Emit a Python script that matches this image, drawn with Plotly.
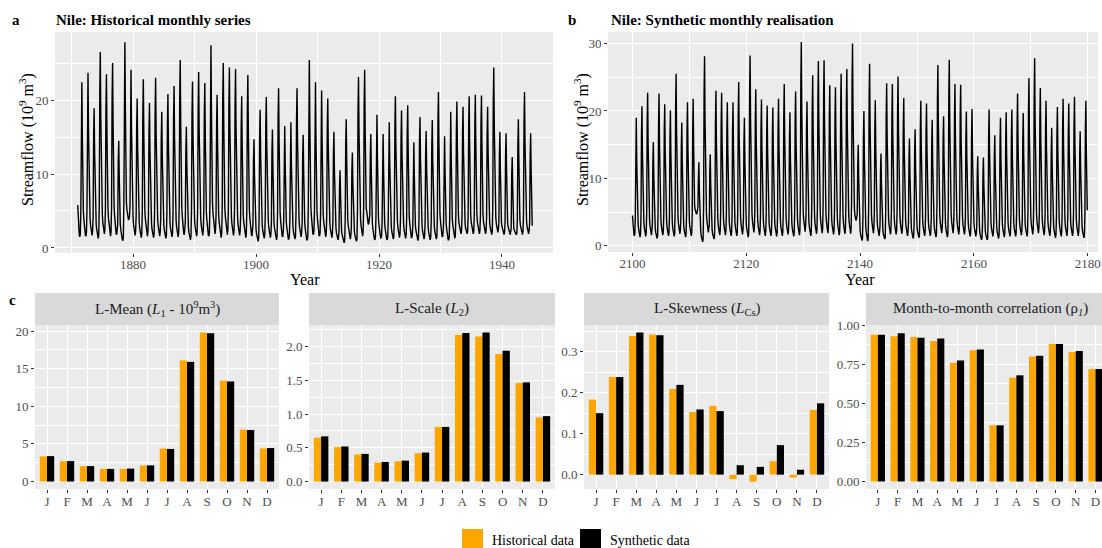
import plotly.graph_objects as go

W, H = 1102, 548
FONT = "Liberation Serif"

# ---------------- data ----------------
months = ["J", "F", "M", "A", "M", "J", "J", "A", "S", "O", "N", "D"]

hist_years = list(range(1871, 1945))
hist_monthly = [
    [5.8, 3.6, 2.4, 1.7, 1.5, 1.9, 4.9, 17.9, 22.4, 15.0, 7.7, 4.9],
    [3.8, 2.9, 2.2, 1.7, 1.6, 2.1, 5.2, 19.0, 23.7, 15.9, 8.2, 5.2],
    [4.0, 3.1, 2.4, 1.8, 1.7, 2.3, 4.2, 15.1, 18.9, 12.7, 6.5, 4.2],
    [3.2, 2.5, 1.9, 1.4, 1.3, 1.8, 5.8, 21.2, 26.5, 17.8, 9.1, 5.8],
    [4.5, 3.4, 2.7, 2.0, 1.9, 2.5, 5.2, 18.8, 23.5, 15.7, 8.1, 5.2],
    [4.0, 3.1, 2.4, 1.8, 1.6, 2.2, 5.5, 20.0, 25.0, 16.8, 8.6, 5.5],
    [4.3, 3.3, 2.5, 1.9, 1.8, 2.4, 3.2, 11.6, 14.5, 9.7, 5.0, 3.2],
    [2.5, 1.9, 1.5, 1.1, 1.0, 1.4, 6.1, 22.2, 27.8, 18.6, 9.6, 6.1],
    [5.2, 4.4, 4.0, 3.8, 3.9, 4.3, 5.8, 19.3, 24.1, 16.1, 8.3, 5.3],
    [4.1, 3.1, 2.4, 1.8, 1.7, 2.3, 4.4, 16.2, 20.2, 13.5, 7.0, 4.4],
    [3.4, 2.6, 2.0, 1.5, 1.4, 1.9, 5.0, 18.2, 22.8, 15.3, 7.9, 5.0],
    [3.9, 3.0, 2.3, 1.7, 1.6, 2.2, 4.3, 15.7, 19.6, 13.1, 6.8, 4.3],
    [3.3, 2.5, 2.0, 1.5, 1.4, 1.9, 5.1, 18.4, 23.0, 15.4, 7.9, 5.1],
    [3.9, 3.0, 2.3, 1.7, 1.6, 2.2, 4.0, 14.7, 18.4, 12.3, 6.3, 4.0],
    [3.1, 2.4, 1.8, 1.4, 1.3, 1.7, 4.6, 16.6, 20.8, 13.9, 7.2, 4.6],
    [3.5, 2.7, 2.1, 1.6, 1.5, 2.0, 4.8, 17.5, 21.9, 14.7, 7.6, 4.8],
    [3.7, 2.8, 2.2, 1.6, 1.5, 2.1, 5.6, 20.3, 25.4, 17.0, 8.8, 5.6],
    [4.3, 3.3, 2.5, 1.9, 1.8, 2.4, 3.6, 13.1, 16.4, 11.0, 5.7, 3.6],
    [2.8, 2.1, 1.6, 1.2, 1.1, 1.6, 5.0, 18.0, 22.5, 15.1, 7.8, 5.0],
    [3.8, 2.9, 2.3, 1.7, 1.6, 2.1, 5.2, 19.0, 23.8, 15.9, 8.2, 5.2],
    [4.0, 3.1, 2.4, 1.8, 1.7, 2.3, 4.9, 17.8, 22.3, 14.9, 7.7, 4.9],
    [3.8, 2.9, 2.2, 1.7, 1.6, 2.1, 6.0, 21.9, 27.4, 18.4, 9.5, 6.0],
    [4.7, 3.6, 2.7, 2.1, 1.9, 2.6, 4.6, 16.6, 20.7, 13.9, 7.1, 4.6],
    [3.5, 2.7, 2.1, 1.6, 1.4, 2.0, 5.5, 20.0, 25.0, 16.8, 8.6, 5.5],
    [4.3, 3.3, 2.5, 1.9, 1.8, 2.4, 5.4, 19.5, 24.4, 16.3, 8.4, 5.4],
    [4.1, 3.2, 2.4, 1.8, 1.7, 2.3, 5.3, 19.4, 24.2, 16.2, 8.3, 5.3],
    [4.1, 3.1, 2.4, 1.8, 1.7, 2.3, 4.5, 16.4, 20.5, 13.7, 7.1, 4.5],
    [3.5, 2.7, 2.1, 1.5, 1.4, 1.9, 5.1, 18.7, 23.4, 15.7, 8.1, 5.1],
    [4.0, 3.0, 2.3, 1.8, 1.6, 2.2, 3.2, 11.8, 14.7, 9.8, 5.1, 3.2],
    [2.5, 1.9, 1.5, 1.1, 0.9, 1.3, 4.1, 15.0, 18.7, 12.5, 6.5, 4.1],
    [3.2, 2.4, 1.9, 1.4, 1.3, 1.8, 4.5, 16.3, 20.4, 13.7, 7.0, 4.5],
    [3.5, 2.7, 2.0, 1.5, 1.4, 1.9, 3.5, 12.8, 16.0, 10.7, 5.5, 3.5],
    [2.7, 2.1, 1.6, 1.2, 1.1, 1.5, 4.8, 17.3, 21.6, 14.5, 7.5, 4.8],
    [3.7, 2.8, 2.2, 1.6, 1.5, 2.1, 3.6, 13.2, 16.5, 11.1, 5.7, 3.6],
    [2.8, 2.1, 1.7, 1.2, 1.2, 1.6, 3.7, 13.6, 17.0, 11.4, 5.9, 3.7],
    [2.9, 2.2, 1.7, 1.3, 1.2, 1.6, 4.8, 17.3, 21.6, 14.5, 7.5, 4.8],
    [3.7, 2.8, 2.2, 1.6, 1.5, 2.1, 3.4, 12.2, 15.3, 10.3, 5.3, 3.4],
    [2.6, 2.0, 1.5, 1.1, 1.1, 1.5, 5.6, 20.3, 25.4, 17.0, 8.8, 5.6],
    [4.3, 3.3, 2.5, 1.9, 1.8, 2.4, 4.9, 17.9, 22.4, 15.0, 7.7, 4.9],
    [3.8, 2.9, 2.2, 1.7, 1.6, 2.1, 4.7, 17.0, 21.3, 14.3, 7.3, 4.7],
    [3.6, 2.8, 2.1, 1.6, 1.5, 2.0, 4.4, 16.2, 20.2, 13.5, 7.0, 4.4],
    [3.4, 2.6, 2.0, 1.5, 1.4, 1.9, 3.5, 12.6, 15.7, 10.5, 5.4, 3.5],
    [2.7, 2.0, 1.6, 1.2, 1.1, 1.5, 2.3, 8.4, 10.5, 7.0, 3.6, 2.3],
    [1.8, 1.4, 1.1, 0.8, 0.7, 1.0, 3.8, 13.9, 17.4, 11.7, 6.0, 3.8],
    [3.0, 2.3, 1.7, 1.3, 1.2, 1.7, 2.8, 10.3, 12.9, 8.6, 4.5, 2.8],
    [2.2, 1.7, 1.3, 1.0, 0.9, 1.2, 5.1, 18.5, 23.1, 15.5, 8.0, 5.1],
    [3.9, 3.0, 2.3, 1.7, 1.6, 2.2, 5.3, 19.3, 24.1, 16.1, 8.3, 5.3],
    [5.0, 4.2, 3.6, 3.2, 3.3, 3.8, 4.5, 12.3, 15.4, 10.3, 5.3, 3.4],
    [2.6, 2.0, 1.5, 1.2, 1.1, 1.5, 4.0, 14.4, 18.0, 12.1, 6.2, 4.0],
    [3.1, 2.3, 1.8, 1.4, 1.3, 1.7, 3.4, 12.3, 15.4, 10.3, 5.3, 3.4],
    [2.6, 2.0, 1.5, 1.2, 1.1, 1.5, 3.7, 13.6, 17.0, 11.4, 5.9, 3.7],
    [2.9, 2.2, 1.7, 1.3, 1.2, 1.6, 4.5, 16.4, 20.5, 13.7, 7.1, 4.5],
    [3.5, 2.7, 2.1, 1.5, 1.4, 1.9, 4.1, 14.9, 18.6, 12.5, 6.4, 4.1],
    [3.2, 2.4, 1.9, 1.4, 1.3, 1.8, 4.2, 15.4, 19.3, 12.9, 6.7, 4.2],
    [3.3, 2.5, 1.9, 1.4, 1.4, 1.8, 3.1, 11.4, 14.3, 9.6, 4.9, 3.1],
    [2.4, 1.9, 1.4, 1.1, 1.0, 1.4, 3.9, 14.2, 17.7, 11.9, 6.1, 3.9],
    [3.0, 2.3, 1.8, 1.3, 1.2, 1.7, 3.5, 12.6, 15.8, 10.6, 5.5, 3.5],
    [2.7, 2.1, 1.6, 1.2, 1.1, 1.5, 3.8, 13.8, 17.3, 11.6, 6.0, 3.8],
    [2.9, 2.2, 1.7, 1.3, 1.2, 1.6, 4.6, 16.9, 21.1, 14.1, 7.3, 4.6],
    [3.6, 2.7, 2.1, 1.6, 1.5, 2.0, 3.3, 12.1, 15.1, 10.1, 5.2, 3.3],
    [2.6, 2.0, 1.5, 1.1, 1.1, 1.4, 4.0, 14.7, 18.4, 12.3, 6.3, 4.0],
    [3.1, 2.4, 1.8, 1.4, 1.3, 1.7, 4.4, 15.8, 19.8, 13.3, 6.8, 4.4],
    [3.4, 2.8, 2.3, 2.0, 1.9, 2.3, 4.2, 15.3, 19.1, 12.8, 6.6, 4.2],
    [3.3, 2.7, 2.3, 1.9, 1.9, 2.2, 4.5, 16.4, 20.5, 13.7, 7.1, 4.5],
    [3.5, 2.9, 2.4, 2.0, 1.9, 2.3, 4.6, 16.6, 20.7, 13.9, 7.1, 4.6],
    [3.5, 2.9, 2.4, 2.0, 1.9, 2.4, 4.5, 16.5, 20.6, 13.8, 7.1, 4.5],
    [3.5, 2.9, 2.4, 2.0, 1.9, 2.4, 4.2, 15.3, 19.1, 12.8, 6.6, 4.2],
    [3.3, 2.8, 2.3, 1.9, 1.8, 2.2, 5.4, 19.5, 24.4, 16.3, 8.4, 5.4],
    [4.1, 3.3, 2.7, 2.2, 2.1, 2.5, 3.5, 12.6, 15.7, 10.5, 5.4, 3.5],
    [2.9, 2.5, 2.2, 1.9, 1.8, 2.1, 3.4, 12.4, 15.5, 10.4, 5.3, 3.4],
    [2.9, 2.5, 2.2, 1.9, 1.8, 2.1, 2.7, 9.8, 12.3, 8.2, 4.2, 2.7],
    [2.4, 2.2, 2.0, 1.8, 1.8, 2.0, 3.8, 13.9, 17.4, 11.7, 6.0, 3.8],
    [3.1, 2.6, 2.2, 1.9, 1.8, 2.1, 4.6, 16.9, 21.1, 14.1, 7.3, 4.6],
    [3.6, 2.9, 2.4, 2.0, 1.9, 2.3, 3.4, 12.4, 15.5, 10.4, 5.3, 3.0],
]

synth_years = list(range(2100, 2180))
synth_monthly = [
    [4.5, 3.0, 2.2, 1.7, 1.5, 1.9, 4.2, 15.2, 19.0, 12.7, 6.6, 4.2],
    [3.2, 2.5, 1.9, 1.4, 1.3, 1.8, 4.6, 16.6, 20.7, 13.9, 7.1, 4.6],
    [3.5, 2.7, 2.1, 1.6, 1.4, 2.0, 5.0, 18.2, 22.7, 15.2, 7.8, 5.0],
    [3.9, 3.0, 2.3, 1.7, 1.6, 2.2, 3.4, 12.3, 15.4, 10.3, 5.3, 3.4],
    [2.6, 2.0, 1.5, 1.2, 1.1, 1.5, 5.0, 18.1, 22.6, 15.1, 7.8, 5.0],
    [3.8, 2.9, 2.3, 1.7, 1.6, 2.1, 4.6, 16.8, 21.0, 14.1, 7.2, 4.6],
    [3.6, 2.7, 2.1, 1.6, 1.5, 2.0, 4.4, 16.1, 20.1, 13.5, 6.9, 4.4],
    [3.4, 2.6, 2.0, 1.5, 1.4, 1.9, 5.6, 20.4, 25.5, 17.1, 8.8, 5.6],
    [4.3, 3.3, 2.6, 1.9, 1.8, 2.4, 4.0, 14.6, 18.3, 12.3, 6.3, 4.0],
    [3.1, 2.4, 1.8, 1.4, 1.3, 1.7, 4.7, 17.0, 21.3, 14.3, 7.3, 4.7],
    [3.6, 2.8, 2.1, 1.6, 1.5, 2.0, 4.8, 17.4, 21.8, 14.6, 7.5, 6.0],
    [5.4, 5.0, 4.8, 4.7, 4.8, 5.2, 5.8, 9.9, 12.4, 8.3, 4.3, 2.7],
    [2.1, 1.5, 1.0, 0.7, 0.6, 1.0, 6.2, 22.5, 28.1, 18.8, 9.7, 6.2],
    [4.8, 3.7, 2.9, 2.2, 2.0, 2.7, 3.0, 10.9, 13.6, 9.1, 4.7, 3.0],
    [2.3, 1.8, 1.4, 1.0, 1.0, 1.3, 5.1, 18.4, 23.0, 15.4, 7.9, 5.1],
    [3.9, 3.0, 2.3, 1.7, 1.6, 2.2, 5.0, 18.2, 22.7, 15.2, 7.8, 5.0],
    [3.9, 3.0, 2.3, 1.7, 1.6, 2.2, 4.7, 17.0, 21.3, 14.3, 7.3, 4.7],
    [3.6, 2.8, 2.1, 1.6, 1.5, 2.0, 4.7, 17.0, 21.3, 14.3, 7.3, 4.7],
    [3.6, 2.8, 2.1, 1.6, 1.5, 2.0, 5.3, 19.4, 24.3, 16.3, 8.4, 5.3],
    [4.1, 3.2, 2.4, 1.8, 1.7, 2.3, 4.2, 15.2, 19.0, 12.7, 6.6, 4.2],
    [3.2, 2.5, 1.9, 1.4, 1.3, 1.8, 6.2, 22.6, 28.2, 18.9, 9.7, 6.2],
    [4.8, 3.7, 2.8, 2.1, 2.0, 2.7, 5.1, 18.6, 23.2, 15.5, 8.0, 5.1],
    [3.9, 3.0, 2.3, 1.7, 1.6, 2.2, 4.8, 17.4, 21.7, 14.5, 7.5, 4.8],
    [3.7, 2.8, 2.2, 1.6, 1.5, 2.1, 4.6, 16.6, 20.8, 13.9, 7.2, 4.6],
    [3.5, 2.7, 2.1, 1.6, 1.5, 2.0, 4.5, 16.4, 20.5, 13.7, 7.1, 4.5],
    [3.5, 2.7, 2.1, 1.5, 1.4, 1.9, 4.8, 17.4, 21.8, 14.6, 7.5, 4.8],
    [3.7, 2.8, 2.2, 1.6, 1.5, 2.1, 5.3, 19.2, 24.0, 16.1, 8.3, 5.3],
    [4.1, 3.1, 2.4, 1.8, 1.7, 2.3, 4.4, 15.8, 19.8, 13.3, 6.8, 4.4],
    [3.4, 2.6, 2.0, 1.5, 1.4, 1.9, 5.0, 18.3, 22.9, 15.3, 7.9, 5.0],
    [3.9, 3.0, 2.3, 1.7, 1.6, 2.2, 6.6, 24.2, 30.2, 20.2, 10.4, 6.6],
    [5.1, 3.9, 3.0, 2.3, 2.1, 2.9, 4.7, 17.1, 21.4, 14.3, 7.4, 4.7],
    [3.6, 2.8, 2.1, 1.6, 1.5, 2.0, 5.6, 20.2, 25.3, 17.0, 8.7, 5.6],
    [4.3, 3.3, 2.5, 1.9, 1.8, 2.4, 6.0, 21.9, 27.4, 18.4, 9.5, 6.0],
    [4.7, 3.6, 2.7, 2.1, 1.9, 2.6, 6.1, 22.0, 27.5, 18.4, 9.5, 6.1],
    [4.7, 3.6, 2.8, 2.1, 1.9, 2.6, 5.2, 19.0, 23.8, 15.9, 8.2, 5.2],
    [4.0, 3.1, 2.4, 1.8, 1.7, 2.3, 5.2, 18.8, 23.5, 15.7, 8.1, 5.2],
    [4.0, 3.1, 2.4, 1.8, 1.6, 2.2, 5.6, 20.4, 25.5, 17.1, 8.8, 5.6],
    [4.3, 3.3, 2.6, 1.9, 1.8, 2.4, 5.8, 21.0, 26.2, 17.6, 9.0, 5.8],
    [4.5, 3.4, 2.6, 2.0, 1.8, 2.5, 6.6, 24.0, 30.0, 20.1, 10.4, 6.6],
    [5.5, 4.6, 4.0, 3.8, 3.9, 4.3, 4.8, 12.0, 15.0, 10.1, 5.2, 3.3],
    [2.4, 1.7, 1.2, 0.9, 0.8, 1.2, 4.4, 16.0, 20.0, 13.4, 6.9, 4.4],
    [2.8, 2.0, 1.3, 0.8, 0.7, 1.2, 5.9, 21.6, 27.0, 18.1, 9.3, 5.9],
    [4.6, 3.5, 2.7, 2.0, 1.9, 2.6, 4.8, 17.3, 21.6, 14.5, 7.5, 4.8],
    [3.7, 2.8, 2.2, 1.6, 1.5, 2.1, 3.0, 11.0, 13.7, 9.2, 4.7, 3.0],
    [2.3, 1.8, 1.4, 1.0, 1.0, 1.3, 5.3, 19.3, 24.1, 16.1, 8.3, 5.3],
    [4.1, 3.1, 2.4, 1.8, 1.7, 2.3, 5.3, 19.2, 24.0, 16.1, 8.3, 5.3],
    [4.1, 3.1, 2.4, 1.8, 1.7, 2.3, 5.5, 20.1, 25.1, 16.8, 8.7, 5.5],
    [4.3, 3.3, 2.5, 1.9, 1.8, 2.4, 4.8, 17.5, 21.9, 14.7, 7.6, 4.8],
    [3.7, 2.8, 2.2, 1.6, 1.5, 2.1, 3.5, 12.7, 15.9, 10.7, 5.5, 3.5],
    [2.7, 2.1, 1.6, 1.2, 1.1, 1.5, 3.8, 13.8, 17.3, 11.6, 6.0, 3.8],
    [2.9, 2.2, 1.7, 1.3, 1.2, 1.6, 4.7, 17.2, 21.5, 14.4, 7.4, 4.7],
    [3.7, 2.8, 2.2, 1.6, 1.5, 2.0, 4.6, 16.9, 21.1, 14.1, 7.3, 4.6],
    [3.6, 2.7, 2.1, 1.6, 1.5, 2.0, 4.1, 15.0, 18.7, 12.5, 6.5, 4.1],
    [3.2, 2.4, 1.9, 1.4, 1.3, 1.8, 5.9, 21.4, 26.8, 18.0, 9.2, 5.9],
    [4.6, 3.5, 2.7, 2.0, 1.9, 2.5, 4.2, 15.4, 19.2, 12.9, 6.6, 4.2],
    [3.3, 2.5, 1.9, 1.4, 1.3, 1.8, 6.1, 22.1, 27.6, 18.5, 9.5, 6.1],
    [4.7, 3.6, 2.8, 2.1, 1.9, 2.6, 5.3, 19.2, 24.0, 16.1, 8.3, 5.3],
    [4.1, 3.1, 2.4, 1.8, 1.7, 2.3, 5.3, 19.1, 23.9, 16.0, 8.2, 5.3],
    [4.1, 3.1, 2.4, 1.8, 1.7, 2.3, 4.4, 15.9, 19.9, 13.3, 6.9, 4.4],
    [3.4, 2.6, 2.0, 1.5, 1.4, 1.9, 4.5, 16.2, 20.3, 13.6, 7.0, 4.5],
    [3.5, 2.6, 2.0, 1.5, 1.4, 1.9, 2.9, 10.6, 13.3, 8.9, 4.6, 2.9],
    [2.3, 1.7, 1.3, 1.0, 0.9, 1.3, 2.9, 10.5, 13.1, 8.8, 4.5, 2.9],
    [2.2, 1.7, 1.3, 1.0, 0.9, 1.2, 4.4, 16.2, 20.2, 13.5, 7.0, 4.4],
    [3.4, 2.6, 2.0, 1.5, 1.4, 1.9, 3.6, 13.1, 16.4, 11.0, 5.7, 3.6],
    [2.8, 2.1, 1.6, 1.2, 1.1, 1.6, 4.2, 15.2, 19.0, 12.7, 6.6, 4.2],
    [3.2, 2.5, 1.9, 1.4, 1.3, 1.8, 4.4, 15.8, 19.8, 13.3, 6.8, 4.4],
    [3.4, 2.6, 2.0, 1.5, 1.4, 1.9, 4.4, 16.2, 20.2, 13.5, 7.0, 4.4],
    [3.4, 2.6, 2.0, 1.5, 1.4, 1.9, 5.0, 18.1, 22.6, 15.1, 7.8, 5.0],
    [3.8, 2.9, 2.3, 1.7, 1.6, 2.1, 4.3, 15.8, 19.7, 13.2, 6.8, 4.3],
    [3.3, 2.6, 2.0, 1.5, 1.4, 1.9, 5.5, 19.9, 24.9, 16.7, 8.6, 5.5],
    [4.2, 3.2, 2.5, 1.9, 1.7, 2.4, 6.1, 22.2, 27.8, 18.6, 9.6, 6.1],
    [4.7, 3.6, 2.8, 2.1, 1.9, 2.6, 5.1, 18.7, 23.4, 15.7, 8.1, 5.1],
    [4.0, 3.0, 2.3, 1.8, 1.6, 2.2, 4.7, 17.2, 21.5, 14.4, 7.4, 4.7],
    [3.7, 2.8, 2.2, 1.6, 1.5, 2.0, 3.9, 14.0, 17.5, 11.7, 6.0, 3.9],
    [3.0, 2.3, 1.8, 1.3, 1.2, 1.7, 4.5, 16.5, 20.6, 13.8, 7.1, 4.5],
    [3.5, 2.7, 2.1, 1.5, 1.4, 2.0, 4.8, 17.4, 21.8, 14.6, 7.5, 4.8],
    [3.7, 2.8, 2.2, 1.6, 1.5, 2.1, 4.6, 16.9, 21.1, 14.1, 7.3, 4.6],
    [3.6, 2.7, 2.1, 1.6, 1.5, 2.0, 4.9, 17.7, 22.1, 14.8, 7.6, 4.9],
    [3.8, 2.9, 2.2, 1.7, 1.5, 2.1, 3.7, 13.6, 17.0, 11.4, 5.9, 3.7],
    [2.9, 2.2, 1.7, 1.3, 1.2, 1.6, 4.7, 17.2, 21.5, 14.4, 7.4, 5.3],
]

lmean_hist = [3.35, 2.7, 2.05, 1.68, 1.68, 2.12, 4.38, 16.1, 19.8, 13.4, 6.9, 4.4]
lmean_syn = [3.38, 2.72, 2.05, 1.68, 1.72, 2.15, 4.33, 15.9, 19.7, 13.3, 6.85, 4.45]
lscale_hist = [0.65, 0.51, 0.40, 0.28, 0.30, 0.42, 0.81, 2.17, 2.15, 1.89, 1.46, 0.95]
lscale_syn = [0.67, 0.52, 0.41, 0.29, 0.31, 0.43, 0.81, 2.20, 2.21, 1.94, 1.47, 0.97]
lskew_hist = [0.183, 0.238, 0.338, 0.342, 0.209, 0.153, 0.168, -0.011, -0.017, 0.033, -0.007, 0.158]
lskew_syn = [0.150, 0.238, 0.347, 0.340, 0.219, 0.159, 0.155, 0.023, 0.019, 0.072, 0.012, 0.174]
rho_hist = [0.94, 0.93, 0.925, 0.90, 0.76, 0.84, 0.36, 0.665, 0.80, 0.88, 0.83, 0.72]
rho_syn = [0.94, 0.95, 0.92, 0.915, 0.775, 0.845, 0.36, 0.68, 0.805, 0.88, 0.835, 0.72]

# ---------------- helpers ----------------
def px(x):
    return x / W


def py(y):
    return 1 - y / H


ORANGE = "#FFA500"
PANEL_BG = "#EBEBEB"
STRIP_BG = "#D9D9D9"
TICK_COL = "#4D4D4D"

fig = go.Figure()

hx = [y + m / 12 for y in hist_years for m in range(12)]
hy = [v for row in hist_monthly for v in row]
sx = [y + m / 12 for y in synth_years for m in range(12)]
sy = [v for row in synth_monthly for v in row]

fig.add_trace(go.Scatter(x=hx, y=hy, mode="lines", line=dict(color="black", width=1.4),
                         xaxis="x", yaxis="y", showlegend=False, hoverinfo="skip"))
fig.add_trace(go.Scatter(x=sx, y=sy, mode="lines", line=dict(color="black", width=1.4),
                         xaxis="x2", yaxis="y2", showlegend=False, hoverinfo="skip"))

mpos = list(range(1, 13))
bar_sets = [(lmean_hist, lmean_syn), (lscale_hist, lscale_syn),
            (lskew_hist, lskew_syn), (rho_hist, rho_syn)]
for i, (hv, sv) in enumerate(bar_sets):
    ax = str(i + 3)
    fig.add_trace(go.Bar(x=mpos, y=hv, marker=dict(color=ORANGE, line=dict(width=0)),
                         name="Historical data", xaxis="x" + ax, yaxis="y" + ax,
                         showlegend=False, offsetgroup="h"))
    fig.add_trace(go.Bar(x=mpos, y=sv, marker=dict(color="black", line=dict(width=0)),
                         name="Synthetic data", xaxis="x" + ax, yaxis="y" + ax,
                         showlegend=False, offsetgroup="s"))

tickfont = dict(family=FONT, size=13, color=TICK_COL)


def xax(dom, rng, **kw):
    d = dict(domain=dom, range=rng, showgrid=True, gridcolor="white", gridwidth=1.1,
             zeroline=False, showline=False, ticks="outside", ticklen=3, tickwidth=1,
             tickcolor="#333333", tickfont=tickfont, fixedrange=True, automargin=False)
    d.update(kw)
    return d


def yax(dom, rng, anchor, **kw):
    d = dict(domain=dom, range=rng, anchor=anchor, showgrid=True, gridcolor="white",
             gridwidth=1.1, zeroline=False, showline=False, ticks="outside", ticklen=3,
             tickwidth=1, tickcolor="#333333", tickfont=tickfont, fixedrange=True,
             automargin=False)
    d.update(kw)
    return d


minor_grid = lambda dt: dict(dtick=dt, showgrid=True, gridcolor="white", gridwidth=0.5, ticks="")

top_y = [py(253), py(32)]
top_yb = [py(252), py(32)]
bot_y = [py(489), py(325)]

layout = dict(
    width=W, height=H, margin=dict(l=0, r=0, t=0, b=0, autoexpand=False),
    paper_bgcolor="white", plot_bgcolor=PANEL_BG,
    barmode="group", bargap=0.28, bargroupgap=0.0,
    font=dict(family=FONT, color="black"),
)

layout["xaxis"] = xax([px(55), px(553)], [1867.3, 1948.3], anchor="y", tick0=1880, dtick=20,
                      minor=minor_grid(10), ticklabelstandoff=-4)
layout["yaxis"] = yax(top_y, [-0.68, 29.2], "x", tick0=0, dtick=10, minor=minor_grid(5))
layout["xaxis2"] = xax([px(608), px(1098)], [2095.7, 2181.8], anchor="y2", tick0=2100, dtick=20,
                       minor=minor_grid(10), ticklabelstandoff=-4)
layout["yaxis2"] = yax(top_yb, [-0.9, 31.7], "x2", tick0=0, dtick=10, minor=minor_grid(5))

bottom_specs = [
    (35, 279, [0.4, 12.6], [-0.99, 20.8], 5, 2.5, None),
    (309, 555, [0.4, 12.6], [-0.11, 2.32], 0.5, 0.25, ".1f"),
    (584, 829, [0.4, 12.6], [-0.035, 0.365], 0.1, 0.05, ".1f"),
    (866, 1102, [0.4, 12.33], [-0.0475, 1.002], 0.25, 0.125, ".2f"),
]
for i, (x0, x1, xr, yr, dt, mdt, fmt) in enumerate(bottom_specs):
    n = str(i + 3)
    layout["xaxis" + n] = xax([px(x0), px(x1)], xr, anchor="y" + n, tickmode="array",
                             tickvals=mpos, ticktext=months, ticklabelstandoff=-3)
    yk = dict(tick0=0, dtick=dt, minor=minor_grid(mdt))
    if fmt:
        yk["tickformat"] = fmt
    layout["yaxis" + n] = yax(bot_y, yr, "x" + n, **yk)

fig.update_layout(**layout)

# strips
strip_txt = [
    "L-Mean (<i>L</i><sub>1</sub> - 10<sup>9</sup>m<sup>3</sup>)",
    "L-Scale (<i>L</i><sub>2</sub>)",
    "L-Skewness (<i>L</i><sub>Cs</sub>)",
    "Month-to-month correlation (ρ<sub><i>1</i></sub>)",
]
strip_cx = [157, 432, 707, 990]
shapes = []
for i, (x0, x1, *_r) in enumerate(bottom_specs):
    x1e = 1110 if i == 3 else x1
    shapes.append(dict(type="rect", xref="paper", yref="paper", x0=px(x0), x1=px(x1e),
                       y0=py(325), y1=py(293), fillcolor=STRIP_BG, line=dict(width=0),
                       layer="below"))
    fig.add_annotation(x=px(strip_cx[i]), y=py(309), xref="paper", yref="paper",
                       text=strip_txt[i], showarrow=False, xanchor="center", yanchor="middle",
                       font=dict(family=FONT, size=15, color="#1A1A1A"))

# legend (manual)
shapes.append(dict(type="rect", xref="paper", yref="paper", x0=px(462), x1=px(483),
                   y0=py(552), y1=py(529), fillcolor=ORANGE, line=dict(width=0)))
shapes.append(dict(type="rect", xref="paper", yref="paper", x0=px(580), x1=px(601),
                   y0=py(552), y1=py(529), fillcolor="black", line=dict(width=0)))
fig.update_layout(shapes=shapes)
fig.add_annotation(x=px(490), y=py(540), xref="paper", yref="paper", text="Historical data",
                   showarrow=False, xanchor="left", yanchor="middle",
                   font=dict(family=FONT, size=14, color="black"))
fig.add_annotation(x=px(608), y=py(540), xref="paper", yref="paper", text="Synthetic data",
                   showarrow=False, xanchor="left", yanchor="middle",
                   font=dict(family=FONT, size=14, color="black"))

# titles & labels
def label(x, y, text, size=15, bold=False, anchor="left", angle=0):
    fig.add_annotation(x=px(x), y=py(y), xref="paper", yref="paper",
                       text=("<b>%s</b>" % text) if bold else text, showarrow=False,
                       xanchor=anchor, yanchor="middle", textangle=angle,
                       font=dict(family=FONT, size=size, color="black"))


label(10, 20, "a", bold=True)
label(54, 20, "Nile: Historical monthly series", bold=True)
label(566, 20, "b", bold=True)
label(609, 20, "Nile: Synthetic monthly realisation", bold=True)
label(7, 300, "c", bold=True)
label(26, 140, "Streamflow (10<sup>9</sup> m<sup>3</sup>)", size=16, anchor="center", angle=-90)
label(581, 140, "Streamflow (10<sup>9</sup> m<sup>3</sup>)", size=16, anchor="center", angle=-90)
label(305, 279, "Year", size=16, anchor="center")
label(860, 279, "Year", size=16, anchor="center")

fig.write_html("out.html")
